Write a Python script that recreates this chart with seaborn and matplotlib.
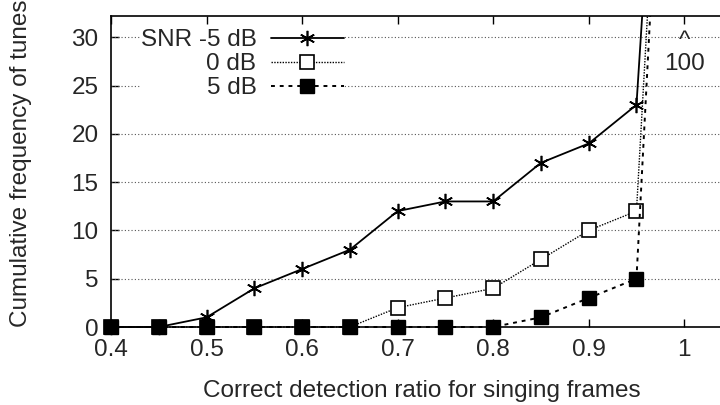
import matplotlib
matplotlib.use("Agg")
import matplotlib.pyplot as plt
from matplotlib.patches import Rectangle
import seaborn as sns
import pandas as pd

# ---- data ----
ratio = [0.40, 0.45, 0.50, 0.55, 0.60, 0.65, 0.70, 0.75, 0.80, 0.85, 0.90, 0.95, 1.00]
snr_m5 = [0, 0, 1, 4, 6, 8, 12, 13, 13, 17, 19, 23, 100]
snr_0 = [0, 0, 0, 0, 0, 0, 2, 3, 4, 7, 10, 12, 100]
snr_5 = [0, 0, 0, 0, 0, 0, 0, 0, 0, 1, 3, 5, 100]
labels = ["SNR -5 dB", "0 dB", "5 dB"]
xticks = [0.4, 0.5, 0.6, 0.7, 0.8, 0.9, 1.0]
xticklabels = ["0.4", "0.5", "0.6", "0.7", "0.8", "0.9", "1"]
yticks = [0, 5, 10, 15, 20, 25, 30]

FS = 17.5

sns.set_theme(style="white")
plt.rcParams["font.family"] = ["Liberation Sans", "DejaVu Sans"]
plt.rcParams["font.size"] = FS

fig = plt.figure(figsize=(7.2, 4.05), dpi=100)
ax = fig.add_axes([111 / 720, 1 - 327 / 405, (732 - 111) / 720, (327 - 16) / 405])

df = pd.DataFrame({"x": ratio, "m5": snr_m5, "z0": snr_0, "p5": snr_5})

sns.lineplot(data=df, x="x", y="m5", ax=ax, color="black", lw=1.3,
             linestyle="-", marker=(6, 2, 0), markersize=11, mew=1.2,
             mec="black", label=labels[0], zorder=3)
sns.lineplot(data=df, x="x", y="z0", ax=ax, color="black", lw=1.0,
             linestyle=(0, (1, 1)), marker="s", markersize=9.5, mew=1.2,
             mfc="white", mec="black", label=labels[1], zorder=4)
sns.lineplot(data=df, x="x", y="p5", ax=ax, color="black", lw=1.4,
             linestyle=(0, (2, 2.5)), marker="s", markersize=10, mew=1.0,
             mfc="black", mec="black", label=labels[2], zorder=5)

clip = Rectangle((-0.1, -0.1), 1.2, 1.1, transform=ax.transAxes)
for ln in ax.get_lines():
    ln.set_clip_path(clip)

ax.set_xlim(0.4, 1.05)
ax.set_ylim(0, 32.2)
ax.set_xticks(xticks)
ax.set_xticklabels(xticklabels)
ax.set_yticks(yticks)
ax.tick_params(direction="in", length=6, width=1, color="black",
               top=True, right=True, bottom=True, left=True,
               labelsize=FS, pad=9)
for s in ax.spines.values():
    s.set_color("black")
    s.set_linewidth(1.2)
    s.set_zorder(7)

for yv in yticks[1:]:
    ax.axhline(yv, color="#555555", lw=0.8, linestyle=(0, (1, 2)), zorder=1)

ax.set_xlabel("Correct detection ratio for singing frames", fontsize=FS, labelpad=13)
ax.set_ylabel("Cumulative frequency of tunes", fontsize=FS)
ax.yaxis.set_label_coords(-0.128, 0.527)

ax.text(1.0, 29.0, "^", ha="center", va="baseline", fontsize=FS)
ax.text(1.0, 26.6, "100", ha="center", va="baseline", fontsize=FS)

leg = ax.legend(loc="upper left", bbox_to_anchor=(0.028, 0.996), markerfirst=False,
                frameon=True, framealpha=1, facecolor="white", edgecolor="none",
                fancybox=False, handlelength=3.0, handletextpad=0.6,
                labelspacing=0.08, borderpad=0.0, fontsize=FS)
leg.set_zorder(6)

fig.savefig("out.png", dpi=100)
